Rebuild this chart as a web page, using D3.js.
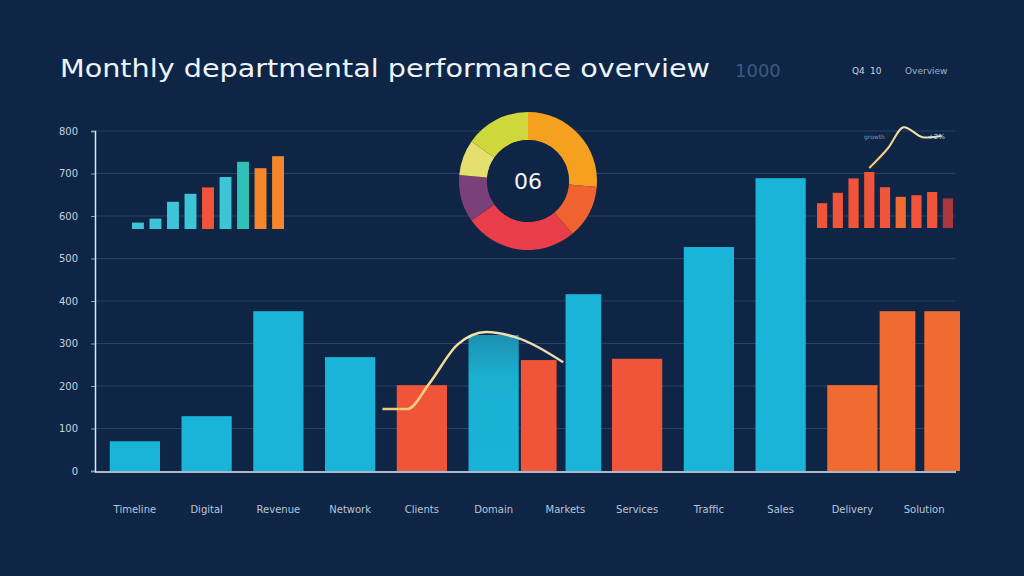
<!DOCTYPE html>
<html><head><meta charset="utf-8">
<script src="https://cdn.jsdelivr.net/npm/d3@7"></script>
<style>html,body{margin:0;padding:0;background:#0f2545;}svg{display:block;}</style>
</head><body>
<svg id="c" width="1024" height="576"></svg>
<script>
// ---------- data ----------
const title = "Monthly departmental performance overview";
const titleSuffix = "1000";
const headerTags = ["Q4", "10", "Overview"];
const yTicks = [0, 100, 200, 300, 400, 500, 600, 700, 800];
const categories = ["Timeline", "Digital", "Revenue", "Network", "Clients", "Domain",
                    "Markets", "Services", "Traffic", "Sales", "Delivery", "Solution"];
const primary   = [70, 129, 376, 268, 202, 320, 261, 264, 527, 689, 202, 376];
const primaryKind = ["cyan","cyan","cyan","cyan","red","teal","red","red","cyan","cyan","orange","orange"];
const secondary = [null, null, null, null, null, null, 416, null, null, null, null, 376];
const secondaryKind = [null, null, null, null, null, null, "cyan", null, null, null, null, "orange"];
// trend line over the main chart (category index, value)
const trendIdx = [3.45, 3.8, 4.1, 4.5, 4.9, 5.3, 5.97];
const trendVal = [146, 146, 205, 298, 327, 315, 256];
// donut
const donutLabels = ["A", "B", "C", "D", "E", "F"];
const donutValues = [95, 45, 95, 40, 30, 55];
const donutCenter = "06";
// left inset
const insetLeftValues = [8, 13, 34, 44, 52, 65, 84, 76, 91];
const insetLeftKind = ["lcyan","lcyan","lcyan","lcyan","red","lcyan","green","amber","amber"];
// right inset
const insetRightValues = [31, 44, 62, 70, 51, 39, 41, 45, 37];
const insetRightKind = ["red","red","red","red","red","orange","red","red","dark"];
const insetTrendIdx = [3, 4.2, 5.2, 6.5, 7.6];
const insetTrendVal = [75, 100, 126, 113, 115];
const insetTrendLabels = ["growth", "+2%"];

// ---------- styles ----------
const colors = {cyan:"#1ab4d9", teal:"#19a8c8", red:"#f0553a", orange:"#f06b32",
  lcyan:"#3cc5d6", green:"#2fc0b8", amber:"#f5862a", dark:"#a8383c"};
const donutColors = ["#f5a01e", "#f0622f", "#ea3d4a", "#7b3f7a", "#e4df6e", "#cfd83a"];
const bg = "#0f2545";

const svg = d3.select("#c");
svg.append("rect").attr("width",1024).attr("height",576).attr("fill",bg);
const defs = svg.append("defs");
const tg = defs.append("linearGradient").attr("id","tealG").attr("x1",0).attr("x2",0).attr("y1",0).attr("y2",1);
tg.append("stop").attr("offset","0%").attr("stop-color","#1d8fb0");
tg.append("stop").attr("offset","30%").attr("stop-color","#1ab0d0");
tg.append("stop").attr("offset","100%").attr("stop-color","#19b3d8");
const lg = defs.append("linearGradient").attr("id","lineG").attr("x1",0).attr("x2",1).attr("y1",0).attr("y2",0);
lg.append("stop").attr("offset","0%").attr("stop-color","#f2c46a");
lg.append("stop").attr("offset","50%").attr("stop-color","#f6e4a8");
lg.append("stop").attr("offset","100%").attr("stop-color","#e8d6b8");

// ---------- title ----------
svg.append("text").attr("x",60).attr("y",77).text(title)
  .attr("font-family","DejaVu Sans").attr("font-size",25).attr("fill","#eef4fb")
  .attr("textLength",650).attr("lengthAdjust","spacingAndGlyphs");
svg.append("text").attr("x",735).attr("y",77).text(titleSuffix)
  .attr("font-family","DejaVu Sans").attr("font-size",18).attr("fill","#3a5a82");
svg.append("text").attr("x",852).attr("y",74).text(headerTags[0])
  .attr("font-family","DejaVu Sans").attr("font-size",9).attr("fill","#c9d4e2");
svg.append("text").attr("x",870).attr("y",74).text(headerTags[1])
  .attr("font-family","DejaVu Sans").attr("font-size",9).attr("fill","#c9d4e2");
svg.append("text").attr("x",905).attr("y",74).text(headerTags[2])
  .attr("font-family","DejaVu Sans").attr("font-size",9).attr("fill","#9fb2c8");

// ---------- main scales ----------
const y = d3.scaleLinear().domain([0,800]).range([471,131]);
const x = d3.scaleBand().domain(categories).range([99,960]).padding(0);
const xc = i => x(categories[i]) + x.bandwidth()/2;
const xi = d3.scaleLinear().domain([0, categories.length-1]).range([xc(0), xc(categories.length-1)]);

// gridlines
svg.append("g").selectAll("line").data(yTicks.slice(1)).join("line")
  .attr("x1",95).attr("x2",955).attr("y1",d=>y(d)).attr("y2",d=>y(d))
  .attr("stroke","#3d5f8a").attr("stroke-opacity",0.5).attr("stroke-width",1);

// y axis
const yAxis = svg.append("g").attr("transform","translate(95,0)")
  .call(d3.axisLeft(y).tickValues(yTicks).tickSize(4).tickPadding(13));
yAxis.select(".domain").attr("stroke","#dfe8f2").attr("stroke-width",1.5);
yAxis.selectAll(".tick line").attr("stroke","#8aa0bb");
yAxis.selectAll("text").attr("fill","#c5d1e0").attr("font-family","DejaVu Sans").attr("font-size",10);

// x axis
const xAxis = svg.append("g").attr("transform","translate(0,472)")
  .call(d3.axisBottom(x).tickSize(0).tickPadding(34));
xAxis.select(".domain").attr("stroke","#dfe8f2").attr("stroke-width",1.5).attr("d","M95,0H956");
xAxis.selectAll("text").attr("fill","#b8c6d8").attr("font-family","DejaVu Sans").attr("font-size",10);

// bars
const bars = [];
categories.forEach((c,i)=>{
  if (secondary[i] == null) {
    bars.push({c, v: primary[i], k: primaryKind[i], slot: "single"});
  } else {
    bars.push({c, v: primary[i], k: primaryKind[i], slot: "a"});
    bars.push({c, v: secondary[i], k: secondaryKind[i], slot: "b"});
  }
});
const singleW = x.bandwidth()*0.7;
const inner = d3.scaleBand().domain(["a","b"]).range([-x.bandwidth()*0.62, x.bandwidth()*0.5]).paddingInner(0.2);
svg.append("g").selectAll("rect").data(bars).join("rect")
  .attr("x", d => d.slot==="single" ? x(d.c)+x.bandwidth()/2-singleW/2 : x(d.c)+x.bandwidth()/2+inner(d.slot))
  .attr("width", d => d.slot==="single" ? singleW : inner.bandwidth())
  .attr("y", d => y(d.v)).attr("height", d => y(0)-y(d.v))
  .attr("fill", d => d.k==="teal" ? "url(#tealG)" : colors[d.k]);

// trend line
const line = d3.line().x((d)=>xi(d[0])).y(d=>y(d[1])).curve(d3.curveMonotoneX);
svg.append("path").datum(trendIdx.map((t,i)=>[t,trendVal[i]]))
  .attr("d",line).attr("fill","none").attr("stroke","url(#lineG)").attr("stroke-width",2.5);

// ---------- donut ----------
const pie = d3.pie().sort(null).value(d=>d);
const arc = d3.arc().innerRadius(41).outerRadius(69);
const dg = svg.append("g").attr("transform","translate(528,181)");
dg.selectAll("path").data(pie(donutValues)).join("path")
  .attr("d",arc).attr("fill",(d,i)=>donutColors[i]);
dg.append("circle").attr("r",41).attr("fill",bg);
dg.append("text").text(donutCenter).attr("text-anchor","middle").attr("dy","0.36em")
  .attr("font-family","DejaVu Sans").attr("font-size",22).attr("fill","#f0f4fa");

// ---------- left inset ----------
const lx = d3.scaleBand().domain(d3.range(insetLeftValues.length)).range([132,284]).paddingInner(0.32);
const ly = d3.scaleLinear().domain([0,100]).range([229,149]);
svg.append("g").selectAll("rect").data(insetLeftValues).join("rect")
  .attr("x",(d,i)=>lx(i)).attr("width",lx.bandwidth())
  .attr("y",d=>ly(d)).attr("height",d=>ly(0)-ly(d))
  .attr("fill",(d,i)=>colors[insetLeftKind[i]]);

// ---------- right inset ----------
const rx = d3.scaleBand().domain(d3.range(insetRightValues.length)).range([817,953]).paddingInner(0.35);
const ry = d3.scaleLinear().domain([0,100]).range([228,148]);
svg.append("g").selectAll("rect").data(insetRightValues).join("rect")
  .attr("x",(d,i)=>rx(i)).attr("width",rx.bandwidth())
  .attr("y",d=>ry(d)).attr("height",d=>ry(0)-ry(d))
  .attr("fill",(d,i)=>colors[insetRightKind[i]]);
const rxi = d3.scaleLinear().domain([0, insetRightValues.length-1])
  .range([rx(0)+rx.bandwidth()/2, rx(insetRightValues.length-1)+rx.bandwidth()/2]);
const rline = d3.line().x(d=>rxi(d[0])).y(d=>ry(d[1])).curve(d3.curveMonotoneX);
svg.append("path").datum(insetTrendIdx.map((t,i)=>[t,insetTrendVal[i]]))
  .attr("d",rline).attr("fill","none").attr("stroke","url(#lineG)").attr("stroke-width",2);
svg.append("text").attr("x",864).attr("y",139).text(insetTrendLabels[0])
  .attr("font-family","DejaVu Sans").attr("font-size",6).attr("fill","#7f93ad");
svg.append("text").attr("x",928).attr("y",139).text(insetTrendLabels[1])
  .attr("font-family","DejaVu Sans").attr("font-size",7).attr("fill","#c9d4e2");
</script>
</body></html>
